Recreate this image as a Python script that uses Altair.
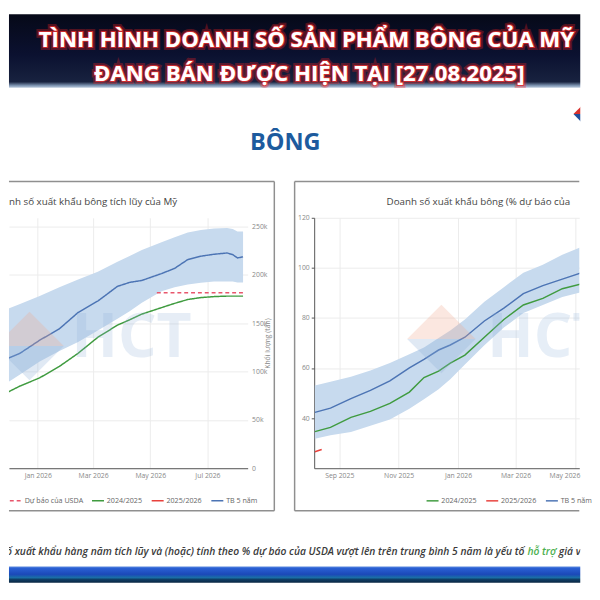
import altair as alt
import pandas as pd

FONT = "Open Sans"
W = 584

# ---------------- data ----------------
# left: cumulative US cotton export sales, thousand tonnes
left_dates = ["2025-11-22", "2025-12-13", "2026-01-03", "2026-01-24", "2026-02-13", "2026-03-06",
              "2026-03-27", "2026-04-09", "2026-04-22", "2026-05-13", "2026-05-27", "2026-06-10",
              "2026-06-24", "2026-07-08", "2026-07-22", "2026-07-28", "2026-08-02", "2026-08-08"]
left_avg = [110.3, 118.9, 132.4, 144.2, 161.1, 172.9, 188.1, 192.2, 194.2, 201.3, 206.7, 215.8,
            219.3, 221.3, 222.6, 220.9, 217.5, 218.6]
left_hi = [161.8, 169.9, 178.0, 187.1, 195.2, 203.3, 213.5, 219.6, 225.7, 233.8, 238.8, 243.9,
           246.5, 248.0, 248.5, 247.5, 244.9, 244.9]
left_lo = [83.7, 96.9, 110.3, 121.2, 130.6, 142.5, 154.7, 162.3, 171.2, 183.1, 187.1, 189.9,
           191.7, 193.2, 193.2, 193.2, 192.2, 192.2]
left_prev = [74.8, 85.0, 93.5, 105.3, 118.9, 135.4, 148.0, 153.5, 159.4, 166.1, 170.5, 174.5,
             176.5, 177.5, 178.0, 178.0, 178.0, 178.0]
usda_dates = ["2026-05-08", "2026-08-08"]
usda_value = [181.4, 181.4]

# right: export sales as % of USDA forecast
right_dates = ["2025-08-07", "2025-08-23", "2025-09-13", "2025-10-03", "2025-10-23", "2025-11-12",
               "2025-11-27", "2025-12-12", "2025-12-24", "2026-01-08", "2026-01-28", "2026-02-17",
               "2026-03-09", "2026-03-29", "2026-04-18", "2026-05-08"]
right_avg = [42.3, 44.0, 47.8, 51.1, 54.9, 60.1, 63.5, 67.2, 69.2, 72.3, 78.8, 83.9, 89.7, 92.9, 95.5, 98.1]
right_hi = [53.0, 54.5, 56.5, 59.0, 62.0, 65.5, 68.2, 72.0, 75.0, 79.4, 86.5, 92.3, 98.1, 101.3, 105.2, 108.4]
right_lo = [31.8, 33.2, 34.5, 37.0, 39.5, 43.7, 47.5, 51.5, 55.5, 61.4, 69.1, 76.2, 82.0, 85.2, 88.4, 90.4]
right_prev = [34.6, 36.3, 40.3, 42.7, 45.9, 50.4, 56.2, 58.8, 62.0, 65.2, 72.3, 79.4, 85.2, 87.8, 91.7, 93.6]
cur_dates = ["2025-08-07", "2025-08-14"]
cur_value = [26.6, 27.5]

L_SERIES = ["Dự báo của USDA", "2024/2025", "2025/2026", "TB 5 năm"]
L_COLORS = ["#e8566c", "#3f9b3f", "#e8413c", "#4c74b4"]
L_DASH = [[4, 3], [1, 0], [1, 0], [1, 0]]
R_SERIES = ["2024/2025", "2025/2026", "TB 5 năm"]
R_COLORS = ["#3f9b3f", "#e8413c", "#4c74b4"]

TITLE_1 = "TÌNH HÌNH DOANH SỐ SẢN PHẨM BÔNG CỦA MỸ"
TITLE_2 = "ĐANG BÁN ĐƯỢC HIỆN TẠI [27.08.2025]"
SECTION = "BÔNG"
LEFT_TITLE = "nh số xuất khẩu bông tích lũy của Mỹ"
RIGHT_TITLE = "Doanh số xuất khẩu bông (% dự báo của USDA)"
Y_TITLE = "Khối lượng (tấn)"
NOTE_1 = "Doanh số xuất khẩu hàng năm tích lũy và (hoặc) tính theo % dự báo của USDA vượt lên trên trung bình 5 năm là yếu tố"
NOTE_2 = "hỗ trợ"
NOTE_3 = "giá và ngược lại."
WATERMARK = "HCT"

one = pd.DataFrame({"k": [0]})

HALF_UP = "M-1,0L0,-1L1,0Z"
HALF_DOWN = "M-1,0L1,0L0,1Z"


def txt(t, x, y, size, color, align="center", baseline="alphabetic", weight="normal", style="normal", **kw):
    return alt.Chart(one).mark_text(text=t, align=align, baseline=baseline, font=FONT, fontSize=size,
                                    fontWeight=weight, fontStyle=style, color=color, **kw).encode(
        x=alt.value(x), y=alt.value(y))


def shape(path, x, y, size, color, opacity=1.0):
    return alt.Chart(one).mark_point(shape=path, size=size, filled=True, color=color, opacity=opacity,
                                     strokeWidth=0, clip=True).encode(x=alt.value(x), y=alt.value(y))


def hrule(x0, x1, y, color="#8f8f8f", w=1.5):
    return alt.Chart(one).mark_rule(color=color, strokeWidth=w).encode(
        x=alt.value(x0), x2=alt.value(x1), y=alt.value(y))


def vrule(x, y0, y1, color="#8f8f8f", w=1.5):
    return alt.Chart(one).mark_rule(color=color, strokeWidth=w).encode(
        x=alt.value(x), y=alt.value(y0), y2=alt.value(y1))


def grad(stops):
    return alt.LinearGradient(gradient="linear", x1=0, x2=0, y1=0, y2=1,
                              stops=[alt.GradientStop(offset=o, color=c) for o, c in stops])


def watermark(xd, yd, xt, yt):
    return [
        shape(HALF_UP, xd, yd, 4900, "#f2a98f", 0.28),
        shape(HALF_DOWN, xd, yd, 4900, "#8fb0d8", 0.28),
        txt(WATERMARK, xt, yt, 62, "#8fb0d8", align="left", weight="bold", opacity=0.22, clip=True),
    ]


# ---------------- header ----------------
H1 = 75
TS = 22.7
header_bg = alt.Chart(one).mark_rect(fill=grad([(0, "#060918"), (0.55, "#0b1130"), (0.92, "#18223f"),
                                                (0.97, "#7d93b0"), (1, "#b9c9dc")])).encode(
    x=alt.value(0), x2=alt.value(W), y=alt.value(0), y2=alt.value(H1))
hdr_layers = [header_bg]
for t, x, y in [(TITLE_1, 304, 33), (TITLE_2, 307, 68)]:
    hdr_layers.append(txt(t, x, y, TS, "#ff3030", weight="bold", stroke="#ff2020", strokeWidth=6,
                          opacity=0.3))
    hdr_layers.append(txt(t, x, y, TS, "#ffffff", weight="bold", stroke="#e83030", strokeWidth=2,
                          strokeOpacity=0.8))
    hdr_layers.append(txt(t, x, y, TS, "#ffffff", weight="bold"))
header = alt.layer(*hdr_layers).properties(width=W, height=H1)

# ---------------- section title + logo ----------------
H2 = 95
section = alt.layer(
    txt(SECTION, 282.5, 63.7, 24, "#1d5b9e", weight="bold"),
    shape(HALF_UP, 597, 27, 1600, "#d8322e"),
    shape(HALF_DOWN, 597, 27, 1600, "#1f4f9c"),
).properties(width=W, height=H2)

# ---------------- common axis style ----------------
LAB = dict(labelFont=FONT, labelFontSize=7, labelColor="#888888")
PH = 256

# ---------------- left panel ----------------
LWID = 244
lx = alt.X("date:T",
           scale=alt.Scale(domain=[alt.DateTime(year=2025, month=12, date=1, hours=5),
                                   alt.DateTime(year=2026, month=8, date=12, hours=22)]),
           axis=alt.Axis(title=None, format="%b %Y",
                         values=[alt.DateTime(year=2026, month=m, date=1) for m in (1, 3, 5, 7)],
                         grid=True, gridColor="#ececec", domainColor="#555555", ticks=False,
                         labelPadding=4, **LAB))
ly_axis = alt.Axis(orient="right", title=Y_TITLE, values=[0, 50, 100, 150, 200, 250],
                   labelExpr="datum.value == 0 ? '0' : datum.value + 'k'", labelPadding=4,
                   domain=False, ticks=False, grid=True, gridColor="#ececec",
                   titleFont=FONT, titleFontSize=7, titleFontWeight="normal", titleColor="#888888",
                   titleAngle=270, titlePadding=4, **LAB)
ly_scale = alt.Scale(domain=[0, 259], nice=False, zero=False)

left_band_df = pd.DataFrame({"date": pd.to_datetime(left_dates), "lo": left_lo, "hi": left_hi})
left_lines_df = pd.concat([
    pd.DataFrame({"date": pd.to_datetime(usda_dates), "value": usda_value, "series": L_SERIES[0]}),
    pd.DataFrame({"date": pd.to_datetime(left_dates), "value": left_prev, "series": L_SERIES[1]}),
    pd.DataFrame({"date": pd.to_datetime(left_dates), "value": left_avg, "series": L_SERIES[3]}),
], ignore_index=True)


def legend(x, y):
    return alt.Legend(title=None, orient="none", legendX=x, legendY=y, direction="horizontal",
                      symbolType="stroke", symbolSize=150, symbolStrokeWidth=1.5, labelFont=FONT,
                      labelFontSize=7.3, labelColor="#666666", columnPadding=5, labelOffset=2,
                      padding=0)


left_band = alt.Chart(left_band_df).mark_area(color="#c7daee", clip=True).encode(
    x=lx, y=alt.Y("lo:Q", scale=ly_scale, axis=ly_axis), y2=alt.Y2("hi:Q"))
left_lines = alt.Chart(left_lines_df).mark_line(strokeWidth=1.5, clip=True).encode(
    x=lx, y=alt.Y("value:Q", scale=ly_scale, axis=ly_axis),
    color=alt.Color("series:N", scale=alt.Scale(domain=L_SERIES, range=L_COLORS), legend=legend(0, 282)),
    strokeDash=alt.StrokeDash("series:N", scale=alt.Scale(domain=L_SERIES, range=L_DASH),
                              legend=legend(0, 282)))

left_panel = alt.layer(
    left_band, left_lines,
    *watermark(21, 131, 64, 142),
    hrule(0, 271.25, -37), hrule(0, 271.25, 299.5), vrule(271.25, -37, 299.5),
    txt(LEFT_TITLE, 0, -16, 10, "#444444", align="left", baseline="middle"),
).properties(width=LWID, height=PH)

# ---------------- right panel ----------------
RWID = 271
rx = alt.X("date:T",
           scale=alt.Scale(domain=[alt.DateTime(year=2025, month=8, date=6, hours=7),
                                   alt.DateTime(year=2026, month=5, date=5, hours=10)]),
           axis=alt.Axis(title=None, format="%b %Y",
                         values=[alt.DateTime(year=2025, month=9, date=1), alt.DateTime(year=2025, month=11, date=1),
                                 alt.DateTime(year=2026, month=1, date=1), alt.DateTime(year=2026, month=3, date=1),
                                 alt.DateTime(year=2026, month=5, date=1)],
                         labelAlign={"condition": {"test": "month(datum.value) == 4", "value": "right"},
                                     "value": "center"},
                         labelOffset={"condition": {"test": "month(datum.value) == 4", "value": 5},
                                      "value": 0},
                         grid=True, gridColor="#ececec", domainColor="#555555", ticks=False,
                         labelPadding=4, **LAB))
ry_axis = alt.Axis(orient="left", title=None, values=[40, 60, 80, 100, 120], domainColor="#555555",
                   tickColor="#555555", tickSize=3, labelPadding=2, grid=True, gridColor="#ececec", **LAB)
ry_scale = alt.Scale(domain=[20, 120], nice=False, zero=False)

right_band_df = pd.DataFrame({"date": pd.to_datetime(right_dates), "lo": right_lo, "hi": right_hi})
right_lines_df = pd.concat([
    pd.DataFrame({"date": pd.to_datetime(right_dates), "value": right_prev, "series": R_SERIES[0]}),
    pd.DataFrame({"date": pd.to_datetime(cur_dates), "value": cur_value, "series": R_SERIES[1]}),
    pd.DataFrame({"date": pd.to_datetime(right_dates), "value": right_avg, "series": R_SERIES[2]}),
], ignore_index=True)

right_band = alt.Chart(right_band_df).mark_area(color="#c7daee", clip=True).encode(
    x=rx, y=alt.Y("lo:Q", scale=ry_scale, axis=ry_axis), y2=alt.Y2("hi:Q"))
right_lines = alt.Chart(right_lines_df).mark_line(strokeWidth=1.5, clip=True).encode(
    x=rx, y=alt.Y("value:Q", scale=ry_scale, axis=ry_axis),
    color=alt.Color("series:N", scale=alt.Scale(domain=R_SERIES, range=R_COLORS), legend=legend(114, 282)))

right_panel = alt.layer(
    right_band, right_lines,
    *watermark(130, 124, 177, 142),
    hrule(-20, RWID, -37), hrule(-20, RWID, 299.5), vrule(-20, -37, 299.5),
    txt(RIGHT_TITLE, 74, -16, 10, "#444444", align="left", baseline="middle", limit=196, ellipsis=" "),
).properties(width=RWID, height=PH)

panels = alt.hconcat(left_panel, right_panel, spacing=19).resolve_scale(
    color="independent", strokeDash="independent").resolve_legend(
    color="independent", strokeDash="independent")

# ---------------- footnote ----------------
H4 = 55
NS = 10.5
X3 = 562
note = alt.layer(
    txt(NOTE_1, 527, 44, NS, "#3a3a3a", align="right", weight=600, style="italic", clip=True),
    txt(NOTE_2, 530, 44, NS, "#4cb050", align="left", weight=600, style="italic", clip=True),
    txt(NOTE_3, X3, 44, NS, "#3a3a3a", align="left", weight=600, style="italic", clip=True,
        limit=29, ellipsis=" "),
).properties(width=W, height=H4)

# ---------------- bottom band ----------------
H5 = 17
bottom = alt.Chart(one).mark_rect(fill=grad([(0, "#dfe9f5"), (0.1, "#2b62d6"), (0.5, "#1b49b8"),
                                             (0.7, "#1a6fa6"), (0.8, "#0f3f66"), (1, "#0a2743")])).encode(
    x=alt.value(0), x2=alt.value(W), y=alt.value(0), y2=alt.value(H5)).properties(width=W, height=H5)

chart = alt.vconcat(header, section, panels, note, bottom, spacing=0).properties(
    padding=0, background="#ffffff"
).configure_view(strokeWidth=0)

chart.save("out.html", embed_options={"renderer": "svg", "actions": False})
